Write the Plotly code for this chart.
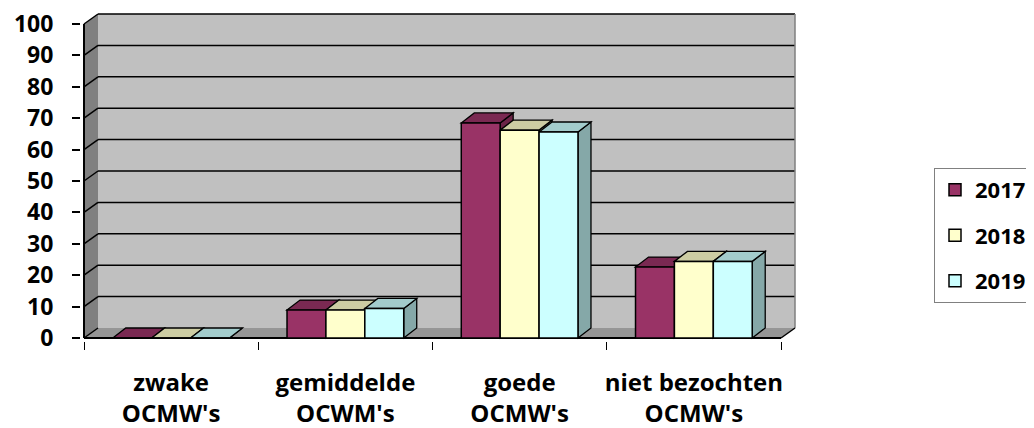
import plotly.graph_objects as go

# ---------------- data ----------------
categories = ["zwake<br>OCMW's", "gemiddelde<br>OCWM's", "goede<br>OCMW's", "niet bezochten<br>OCMW's"]
years = ["2017", "2018", "2019"]
values_2017 = [0, 8.9, 68.5, 22.6]
values_2018 = [0, 8.9, 66.2, 24.4]
values_2019 = [0, 9.4, 65.6, 24.4]
y_ticks = [0, 10, 20, 30, 40, 50, 60, 70, 80, 90, 100]

series = [values_2017, values_2018, values_2019]
front_colors = ["#993366", "#FFFFCC", "#CCFFFF"]
top_colors = ["#7A2952", "#CCCCA3", "#A3CCCC"]
side_colors = ["#6B2447", "#B3B38F", "#85A8A8"]

# ---------------- geometry (pixels in the 1034x428 window) ----------------
OFF = 8                                # default page margin of the html body
W, H = 1034 - OFF, 428 - OFF
front_left, front_right = 84 - OFF, 781 - OFF
y0_px, y100_px = 338 - OFF, 24.3 - OFF
legend_left, legend_top = 934 - OFF, 168 - OFF
wall_dx, wall_dy = 14, 10              # depth of the walls (px)
bar_dx, bar_dy = 13, 10                # depth of the bars (px)
pad = 3

n = len(categories)
xu = (front_right - front_left) / n    # px per category unit
yu = (y0_px - y100_px) / 100           # px per value unit

x_lo = -0.5 - pad / xu
x_hi = n - 0.5 + (wall_dx + pad) / xu
y_lo = -pad / yu
y_hi = 100 + (wall_dy + pad) / yu

plot_l = front_left - pad
plot_r = plot_l + (x_hi - x_lo) * xu
plot_b = y0_px + pad
plot_t = plot_b - (y_hi - y_lo) * yu

wdx, wdy = wall_dx / xu, wall_dy / yu
bdx, bdy = bar_dx / xu, bar_dy / yu
xmin, xfront_r = -0.5, n - 0.5
xback_r = xfront_r + wdx

bar_w = 38.9 / xu

shapes = []
def poly(pts, fill, line_color=None, lw=1.5):
    path = "M " + " L ".join(f"{x},{y}" for x, y in pts) + " Z"
    return dict(type="path", path=path, xref="x", yref="y", layer="below",
                fillcolor=fill,
                line=dict(color=line_color or "rgba(0,0,0,0)", width=lw if line_color else 0))

def seg(x0, y0, x1, y1, color="black", w=1.5):
    return dict(type="line", x0=x0, y0=y0, x1=x1, y1=y1, xref="x", yref="y",
                layer="below", line=dict(color=color, width=w))

# back wall
shapes.append(poly([(xmin + wdx, wdy), (xback_r, wdy), (xback_r, 100 + wdy), (xmin + wdx, 100 + wdy)], "#C0C0C0"))
# left wall
shapes.append(poly([(xmin, 0), (xmin, 100), (xmin + wdx, 100 + wdy), (xmin + wdx, wdy)], "#808080"))
# floor
shapes.append(poly([(xmin, 0), (xfront_r, 0), (xback_r, wdy), (xmin + wdx, wdy)], "#969696"))
# grid lines on walls
for t in y_ticks:
    if t > 0:
        shapes.append(seg(xmin, t, xmin + wdx, t + wdy))
        shapes.append(seg(xmin + wdx, t + wdy, xback_r, t + wdy))
# right edge of back wall
shapes.append(seg(xback_r, wdy, xback_r, 100 + wdy, color="#7F7F7F", w=1.5))
# floor edges and axis line
shapes.append(seg(xmin, 0, xmin + wdx, wdy, w=1.5))
shapes.append(seg(xmin, 0, xfront_r, 0, w=2))
shapes.append(seg(xfront_r, 0, xback_r, wdy, w=1.5))
shapes.append(seg(xmin, 0, xmin, 100, w=2))

# bar depth faces (side + top), drawn left to right
offsets = [-1.5 * bar_w + i * bar_w for i in range(len(series))]
for j in range(n):
    for i, vals in enumerate(series):
        v = vals[j]
        xl = j + offsets[i]
        xr = xl + bar_w
        shapes.append(poly([(xr, 0), (xr + bdx, bdy), (xr + bdx, v + bdy), (xr, v)], side_colors[i], "black", 1.3))
        shapes.append(poly([(xl, v), (xl + bdx, v + bdy), (xr + bdx, v + bdy), (xr, v)], top_colors[i], "black", 1.3))

fig = go.Figure()
for i, vals in enumerate(series):
    fig.add_trace(go.Bar(
        x=list(range(n)), y=vals, name=years[i],
        width=bar_w, offset=offsets[i],
        marker=dict(color=front_colors[i], line=dict(color="black", width=1.5)),
        legendgroup=years[i], hoverinfo="skip",
    ))

font_family = "Open Sans"
fig.update_layout(
    width=W, height=H,
    margin=dict(l=plot_l, r=W - plot_r, t=plot_t, b=H - plot_b, pad=0, autoexpand=False),
    paper_bgcolor="white", plot_bgcolor="white",
    barmode="overlay",
    shapes=shapes,
    showlegend=True,
    legend=dict(
        x=(legend_left - plot_l) / (plot_r - plot_l), xanchor="left",
        y=(plot_b - legend_top) / (plot_b - plot_t), yanchor="top",
        bgcolor="white", bordercolor="#808080", borderwidth=1,
        font=dict(family=font_family, size=22, color="black", weight="bold"),
        tracegroupgap=14, traceorder="grouped",
    ),
    xaxis=dict(
        range=[x_lo, x_hi], tickmode="array", tickvals=list(range(n)), ticktext=categories,
        ticks="", showgrid=False, zeroline=False, showline=False, automargin=False,
        tickfont=dict(family=font_family, size=24, color="black", weight="bold"),
        ticklabelstandoff=25, ticklabeloverflow="allow",
        minor=dict(tickmode="array", tickvals=[k - 0.5 for k in range(n + 1)],
                   ticks="outside", ticklen=8, tickcolor="black", tickwidth=1, showgrid=False),
        fixedrange=True,
    ),
    yaxis=dict(
        range=[y_lo, y_hi], tickmode="array", tickvals=y_ticks,
        ticks="outside", ticklen=8, tickcolor="black", tickwidth=1.5,
        showgrid=False, zeroline=False, showline=False, automargin=False,
        tickfont=dict(family=font_family, size=23, color="black", weight="bold"),
        ticklabelstandoff=14, ticklabeloverflow="allow",
        fixedrange=True,
    ),
)

fig.write_html("out.html")
